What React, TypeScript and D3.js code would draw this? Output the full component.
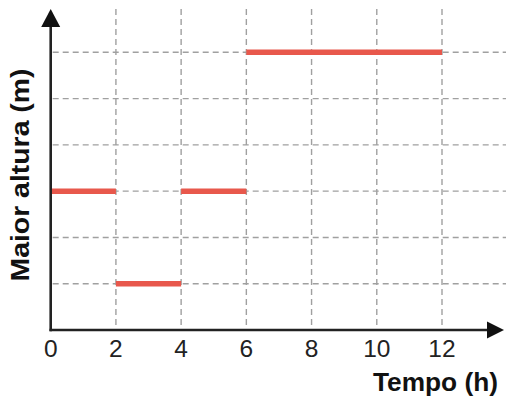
import React from "react";
import * as d3 from "d3";

const xTicks = [0, 2, 4, 6, 8, 10, 12];
const yGridLevels = [1, 2, 3, 4, 5, 6];
const segStart = [0, 2, 4, 6];
const segEnd = [2, 4, 6, 12];
const segHeight = [3, 1, 3, 6];
const xTitle = "Tempo (h)";
const yTitle = "Maior altura (m)";

export default function App() {
  const W = 506, H = 400;
  const x = d3.scaleLinear().domain([0, 12]).range([50.7, 442]);
  const y = d3.scaleLinear().domain([0, 6]).range([330, 52.3]);
  const x0 = x(0), y0 = y(0);
  const font = "'Liberation Sans', Arial, sans-serif";
  const gridColor = "#a0a0a0";
  return (
    <svg width={W} height={H} style={{ position: "absolute", left: 0, top: 0 }}>
      <rect width={W} height={H} fill="#fff" />
      {yGridLevels.map((v) => (
        <line key={"h" + v} x1={x0 + 2} x2={W} y1={y(v)} y2={y(v)}
          stroke={gridColor} strokeWidth={1.4} strokeDasharray="6 4" />
      ))}
      {xTicks.filter((t) => t > 0).map((t) => (
        <line key={"v" + t} x1={x(t)} x2={x(t)} y1={9} y2={y0 - 2}
          stroke={gridColor} strokeWidth={1.4} strokeDasharray="6 4" />
      ))}
      {segStart.map((s, i) => (
        <line key={"s" + i} x1={x(s)} x2={x(segEnd[i])} y1={y(segHeight[i])} y2={y(segHeight[i])}
          stroke="#e8584c" strokeWidth={5.5} />
      ))}
      <line x1={x0} x2={x0} y1={y0 + 1.2} y2={24} stroke="#222" strokeWidth={2.6} />
      <line x1={x0 - 1.2} x2={490} y1={y0} y2={y0} stroke="#222" strokeWidth={2.6} />
      <path d={`M${x0},9 L${x0 - 9.5},27 L${x0 + 9.5},27 Z`} fill="#111" />
      <path d={`M504,${y0} L487,${y0 - 8.5} L487,${y0 + 8.5} Z`} fill="#111" />
      {xTicks.map((t) => (
        <text key={"t" + t} x={x(t)} y={356.5} textAnchor="middle" fontFamily={font}
          fontSize={24.5} fill="#222">{t}</text>
      ))}
      <text x={498} y={391} textAnchor="end" fontFamily={font} fontSize={25}
        fontWeight="bold" fill="#111" textLength={125} lengthAdjust="spacingAndGlyphs">{xTitle}</text>
      <text transform={`translate(29,175) rotate(-90)`} textAnchor="middle" fontFamily={font}
        fontSize={25} fontWeight="bold" fill="#111" textLength={213} lengthAdjust="spacingAndGlyphs">{yTitle}</text>
    </svg>
  );
}
